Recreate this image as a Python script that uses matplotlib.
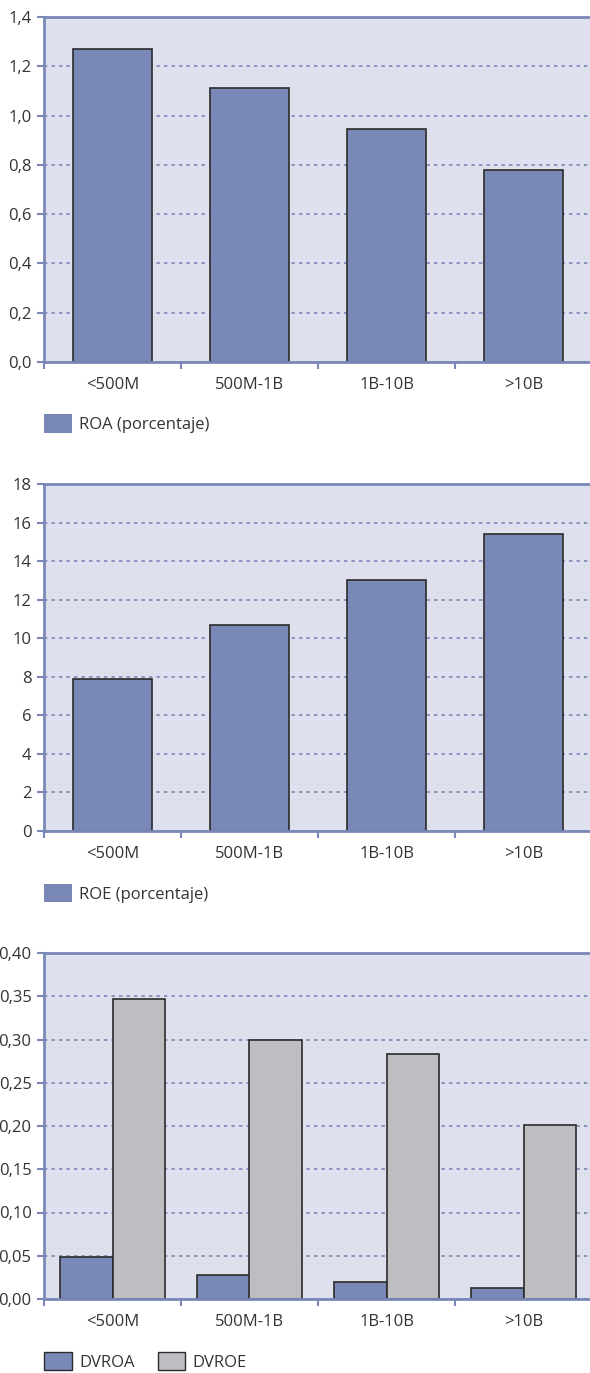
import matplotlib.pyplot as plt
import numpy as np
from matplotlib.patches import Patch
from matplotlib.ticker import FixedLocator

plt.rcParams["font.family"] = ["Open Sans", "DejaVu Sans"]

categories = ["<500M", "500M-1B", "1B-10B", ">10B"]
roa = [1.27, 1.11, 0.945, 0.78]
roe = [7.9, 10.7, 13.0, 15.4]
dvroa = [0.049, 0.028, 0.020, 0.013]
dvroe = [0.347, 0.300, 0.283, 0.201]

BLUE = "#7a88b8"
GREY = "#bebec2"
BG = "#dfe0ee"
EDGE = "#2b2b2b"
TXT = "#333333"
FS = 12

fig = plt.figure(figsize=(5.9, 13.73), dpi=100)
W, H = 590, 1373


def make_axes(top_px, bottom_px):
    return fig.add_axes([44 / W, 1 - bottom_px / H, 548 / W, (bottom_px - top_px) / H])


def style(ax, ymax, step, fmt):
    x = np.arange(len(categories))
    ax.set_xlim(-0.5, len(categories) - 0.5)
    ax.set_ylim(0, ymax)
    ticks = np.arange(0, ymax + step / 2, step)
    ax.set_yticks(ticks)
    ax.set_yticklabels([fmt(t) for t in ticks])
    ax.set_xticks(x)
    ax.set_xticklabels(categories)
    ax.xaxis.set_minor_locator(FixedLocator(np.arange(-0.5, len(categories), 1.0)))
    ax.tick_params(axis="x", which="major", length=0, pad=11, labelsize=FS, colors=TXT)
    ax.tick_params(axis="x", which="minor", length=5, width=1.5, color=BLUE)
    ax.tick_params(axis="y", length=5, width=1.5, color=BLUE, labelsize=FS,
                   labelcolor=TXT, pad=4)
    ax.set_facecolor(BG)
    for s in ["left", "top", "bottom", "right"]:
        ax.spines[s].set_color(BLUE)
        ax.spines[s].set_linewidth(2)
    ax.yaxis.grid(True, color=BLUE, linestyle=(0, (2, 2.5)), linewidth=1.2)
    ax.set_axisbelow(True)


def comma(fmt):
    return lambda v: format(v, fmt).replace(".", ",")


def add_legend(ax, handles):
    ax.legend(handles=handles, loc="upper left", bbox_to_anchor=(0, -0.152),
              frameon=False, ncol=len(handles), borderpad=0, borderaxespad=0,
              handlelength=1.65, handleheight=1.35, handletextpad=0.45,
              columnspacing=1.4, fontsize=FS, labelcolor=TXT)


x = np.arange(len(categories))

# ROA
ax1 = make_axes(17, 362)
ax1.bar(x, roa, width=0.58, color=BLUE, edgecolor=EDGE, linewidth=1.2)
style(ax1, 1.4, 0.2, comma(".1f"))
add_legend(ax1, [Patch(facecolor=BLUE, edgecolor="none", label="ROA (porcentaje)")])

# ROE
ax2 = make_axes(484, 831)
ax2.bar(x, roe, width=0.58, color=BLUE, edgecolor=EDGE, linewidth=1.2)
style(ax2, 18, 2, lambda v: f"{v:.0f}")
add_legend(ax2, [Patch(facecolor=BLUE, edgecolor="none", label="ROE (porcentaje)")])

# DVROA / DVROE
ax3 = make_axes(953, 1299)
bw = 0.38
ax3.bar(x - bw / 2, dvroa, width=bw, color=BLUE, edgecolor=EDGE, linewidth=1.2)
ax3.bar(x + bw / 2, dvroe, width=bw, color=GREY, edgecolor=EDGE, linewidth=1.2)
style(ax3, 0.40, 0.05, comma(".2f"))
add_legend(ax3, [Patch(facecolor=BLUE, edgecolor=EDGE, label="DVROA"),
                 Patch(facecolor=GREY, edgecolor=EDGE, label="DVROE")])

fig.savefig("out.png", dpi=100)
